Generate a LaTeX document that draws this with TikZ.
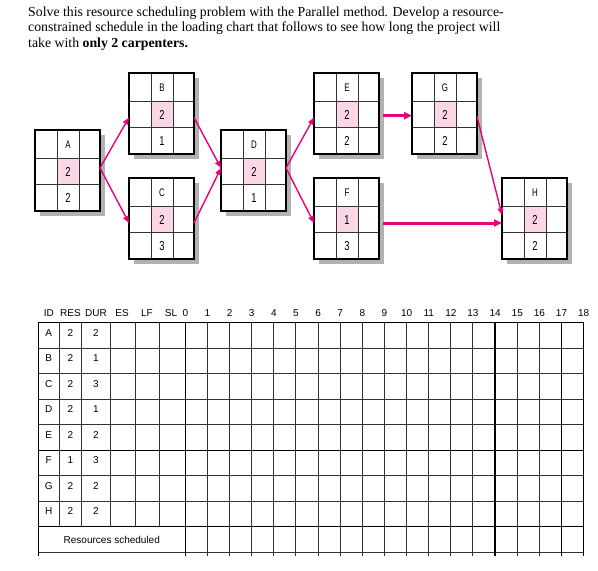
\documentclass[tikz,border=0pt]{standalone}
\usepackage{fontspec}
\setmainfont{Liberation Serif}
\newfontfamily\chartfont{Liberation Sans}
\newfontfamily\narrowfont[FakeStretch=0.72]{Liberation Sans}
\usepackage{tikz}
\usetikzlibrary{arrows.meta}

\definecolor{arrowpink}{RGB}{232,0,125}
\definecolor{respink}{RGB}{250,214,230}
\definecolor{shadowgray}{RGB}{178,178,178}

% activity box: name, left, top, letter, resources, duration
\newcommand{\actbox}[6]{%
  \fill[shadowgray] (#2+4.5,#3+4.5) rectangle (#2+69.5,#3+85.5);
  \fill[white] (#2,#3) rectangle (#2+65,#3+81);
  \node[box frame] (#1) at (#2+32.5,#3+40.5) {};
  \fill[respink] (#2+22,#3+28) rectangle (#2+44,#3+54);
  \draw[box grid] (#2+22,#3) -- (#2+22,#3+81) (#2+44,#3) -- (#2+44,#3+81)
                  (#2,#3+28) -- (#2+65,#3+28) (#2,#3+54) -- (#2+65,#3+54);
  \draw[box border] (#2,#3) rectangle (#2+65,#3+81);
  \node[box letter] (#1-id) at (#2+33,#3+18) {#4};
  \node[box number] (#1-res) at (#2+33,#3+46) {#5};
  \node[box number] (#1-dur) at (#2+33,#3+72) {#6};
}

\begin{document}
\begin{tikzpicture}[
                    x=1pt, y=-1pt,
                    box frame/.style={
                        rectangle,
                        minimum width=65pt,
                        minimum height=81pt,
                        inner sep=0pt,
                        outer sep=0pt
                    },
                    box grid/.style={line width=0.9pt, black!80},
                    box border/.style={line width=1.4pt, black},
                    box letter/.style={anchor=base, inner sep=0pt, font=\narrowfont\fontsize{11}{12}\selectfont},
                    box number/.style={anchor=base, inner sep=0pt, font=\narrowfont\fontsize{13}{14}\selectfont},
                    flow/.style={draw=arrowpink, line width=1.4pt, -{Triangle[length=7pt,width=5.5pt]}},
                    main flow/.style={draw=arrowpink, line width=3pt, -{Triangle[length=8pt,width=7pt]}},
                    grid line/.style={line width=1pt, black!80},
                    major line/.style={line width=1.4pt, black},
                    head text/.style={anchor=base, inner sep=0pt, font=\chartfont\fontsize{10}{12}\selectfont},
                    cell text/.style={anchor=base, inner sep=0pt, font=\chartfont\fontsize{10}{12}\selectfont}
                ]
    \useasboundingbox (0,0) rectangle (598,571);

    % task statement
    \node[anchor=base west, align=left, inner sep=0pt,
          font=\fontsize{13.8}{15.5}\selectfont] (task) at (28,47)
        {Solve this resource scheduling problem with the Parallel method. Develop a resource-\\
         constrained schedule in the loading chart that follows to see how long the project will\\
         take with \textbf{only 2 carpenters.}};

    % network
    \actbox{A}{35}{130}{A}{2}{2}
    \actbox{B}{129}{73}{B}{2}{1}
    \actbox{C}{129}{178}{C}{2}{3}
    \actbox{D}{221}{130}{D}{2}{1}
    \actbox{E}{314}{73}{E}{2}{2}
    \actbox{F}{314}{178}{F}{1}{3}
    \actbox{G}{412}{73}{G}{2}{2}
    \actbox{H}{502}{178}{H}{2}{2}

    \draw[flow] ([yshift=2.5pt]A.east) -- ([yshift=-4pt]B.west);
    \draw[flow] ([yshift=2.5pt]A.east) -- ([yshift=-4.5pt]C.west);
    \draw[flow] ([yshift=-4pt]B.east) -- ([yshift=2.5pt]D.west);
    \draw[flow] ([yshift=-4.5pt]C.east) -- ([yshift=2.5pt]D.west);
    \draw[flow] ([yshift=2.5pt]D.east) -- ([yshift=-4pt]E.west);
    \draw[flow] ([yshift=2.5pt]D.east) -- ([yshift=-4.5pt]F.west);
    \draw[main flow] ([xshift=4pt,yshift=-2.2pt]E.east) -- ([yshift=-2.2pt]G.west);
    \draw[main flow] ([xshift=4pt,yshift=-4.5pt]F.east) -- ([yshift=-4.5pt]H.west);
    \draw[flow] ([yshift=-3pt]G.east) -- ([yshift=3.5pt]H.west);

    % loading chart
    \foreach \r in {1,...,9}
        \draw[grid line] (38.3,322.7+25.5*\r) -- (583.6,322.7+25.5*\r);
    \draw[major line] (38.3,450.2) -- (583.6,450.2);
    \draw[major line] (38.3,526.7) -- (583.6,526.7);
    \foreach \cx in {59.3,81.7,110,135,159}
        \draw[grid line] (\cx,322.7) -- (\cx,526.7);
    \foreach \t in {1,...,17}
        \draw[grid line] (185.3+22.13*\t,322.7) -- (185.3+22.13*\t,556);
    \foreach \t in {14,17}
        \draw[major line] (185.3+22.13*\t,322.7) -- (185.3+22.13*\t,556);
    \draw[major line] (38.3,556) -- (38.3,322.7) -- (583.6,322.7) -- (583.6,556);
    \draw[major line] (185.3,322.7) -- (185.3,556);

    \node[head text] (hID) at (48.8,316) {ID};
    \node[head text] (hRES) at (70.5,316) {RES};
    \node[head text] (hDUR) at (96,316) {DUR};
    \node[head text] (hES) at (122,316) {ES};
    \node[head text] (hLF) at (147,316) {LF};
    \node[head text] (hSL) at (171,316) {SL};
    \foreach \t in {0,...,18}
        \node[head text] (t\t) at (185.3+22.13*\t,316) {\t};

    \foreach \id/\res/\dur [count=\r from 0] in {A/2/2,B/2/1,C/2/3,D/2/1,E/2/2,F/1/3,G/2/2,H/2/2} {
        \node[cell text] (id\id) at (48.8,336.2+25.5*\r) {\id};
        \node[cell text] (res\id) at (70.5,336.2+25.5*\r) {\res};
        \node[cell text] (dur\id) at (96,336.2+25.5*\r) {\dur};
    }
    \node[cell text] (scheduled) at (111.8,543) {Resources scheduled};
\end{tikzpicture}
\end{document}
